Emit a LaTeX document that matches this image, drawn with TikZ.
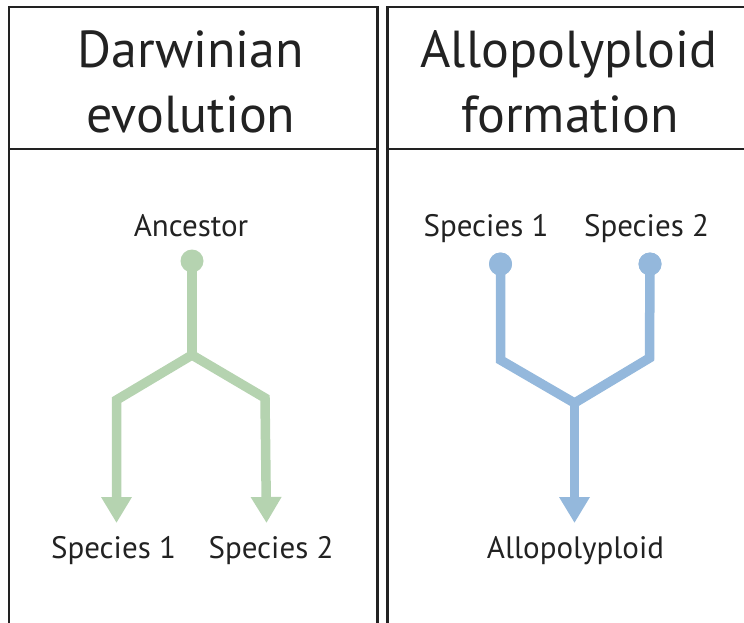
\documentclass[tikz,border=0pt]{standalone}
\usepackage{fontspec}
\setmainfont{PT Sans}
\usetikzlibrary{arrows.meta}
\definecolor{treegreen}{RGB}{181,211,176}
\definecolor{treeblue}{RGB}{148,184,220}
\definecolor{frame}{RGB}{34,34,34}
\begin{document}
\begin{tikzpicture}[x=1pt,y=-1pt,
  panel/.style={draw=frame,line width=2.8pt},
  header/.style={anchor=base,font=\fontsize{52}{54}\selectfont,text=frame,inner sep=0pt},
  lbl/.style={anchor=base,font=\fontsize{31}{33}\selectfont,text=frame,inner sep=0pt},
  dot/.style={circle,fill=#1,inner sep=0pt,minimum size=23pt},
  branch/.style={draw=#1,line width=9.5pt,line join=miter},
  arrowbranch/.style={branch=#1,-{Triangle[width=29pt,length=26pt]}},
]
\useasboundingbox (0,0) rectangle (744,623);
\clip (0,0) rectangle (744,623);
% panels
\draw[panel] (9,7) rectangle (377.5,650);
\draw[panel] (9,149) -- (377.5,149);
\draw[panel] (387.5,7) rectangle (760,650);
\draw[panel] (387.5,149) -- (760,149);
% headers
\node[header] (h1a) at (191,68) {Darwinian};
\node[header] (h1b) at (191,132) {evolution};
\node[header] (h2a) at (569,68) {Allopolyploid};
\node[header] (h2b) at (570,132) {formation};
% Darwinian tree
\node[lbl] (anc) at (191,236.5) {Ancestor};
\node[lbl] (ls1) at (113.5,558) {Species 1};
\node[lbl] (ls2) at (271,558) {Species 2};
\coordinate (gj) at (192,355);
\coordinate (gl) at (116.5,400);
\coordinate (gr) at (265,398);
\coordinate (gtl) at (116.5,523);
\coordinate (gtr) at (266.5,523);
\draw[branch=treegreen] (192,261) -- (gj);
\node[dot=treegreen] (gdot) at (192,261) {};
\draw[arrowbranch=treegreen] (gj) -- (gl) -- (gtl);
\draw[arrowbranch=treegreen] (gj) -- (gr) -- (gtr);
% Allopolyploid tree
\node[lbl] (rs1) at (486,236.5) {Species 1};
\node[lbl] (rs2) at (646.5,236.5) {Species 2};
\node[lbl] (allo) at (575.5,558) {Allopolyploid};
\node[dot=treeblue] (bdl) at (500.5,264) {};
\node[dot=treeblue] (bdr) at (650,264) {};
\coordinate (bl) at (500.5,360);
\coordinate (br) at (649.5,358);
\coordinate (bj) at (574.5,403);
\coordinate (bt) at (574.5,523);
\draw[branch=treeblue] (bdl.center) -- (bl) -- (bj) -- (br) -- (bdr.center);
\node[dot=treeblue] at (bdl) {};
\node[dot=treeblue] at (bdr) {};
\draw[arrowbranch=treeblue] (bj) -- (bt);
\end{tikzpicture}
\end{document}
